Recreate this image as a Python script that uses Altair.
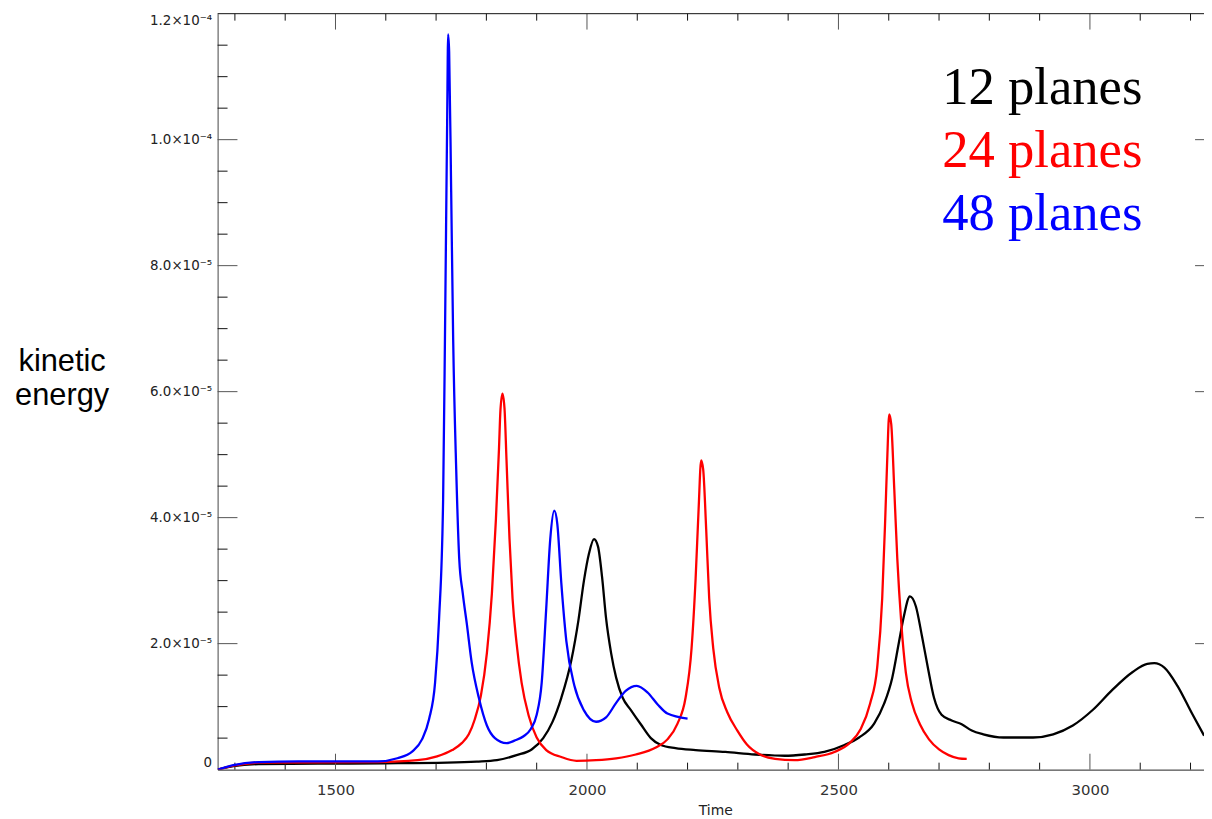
import altair as alt
import pandas as pd

# ---------------- data ----------------
# 12 planes (black)
t_12 = [1266, 1297, 1347, 1465, 1597, 1722, 1781, 1821, 1860, 1890, 1913, 1931, 1949, 1969,
        1983, 1994, 2004, 2014, 2022, 2030, 2038, 2048, 2058, 2071, 2087, 2107, 2127, 2147,
        2176, 2216, 2275, 2334, 2393, 2433, 2472, 2512, 2541, 2571, 2591, 2607, 2620, 2630,
        2642, 2654, 2666, 2678, 2690, 2705, 2725, 2745, 2765, 2788, 2828, 2887, 2927, 2966,
        3006, 3045, 3085, 3114, 3128, 3148, 3174, 3203, 3227]
ke_12 = [0.0, 0.055, 0.087, 0.095, 0.10, 0.11, 0.126, 0.15, 0.23, 0.32, 0.50, 0.75, 1.14, 1.74,
         2.37, 3.00, 3.43, 3.66, 3.54, 3.06, 2.40, 1.85, 1.46, 1.14, 0.95, 0.72, 0.50, 0.39,
         0.34, 0.31, 0.28, 0.24, 0.22, 0.24, 0.28, 0.39, 0.51, 0.73, 1.05, 1.46, 2.01, 2.43,
         2.75, 2.59, 2.12, 1.61, 1.14, 0.87, 0.78, 0.72, 0.62, 0.56, 0.51, 0.51, 0.56, 0.70,
         0.95, 1.27, 1.55, 1.68, 1.69, 1.62, 1.33, 0.89, 0.54]

# 24 planes (red)
t_24 = [1266, 1297, 1347, 1584, 1663, 1702, 1732, 1751, 1765, 1777, 1789, 1801, 1811, 1819,
        1825, 1828, 1832, 1836, 1840, 1846, 1852, 1860, 1870, 1884, 1900, 1919, 1949, 1979,
        2018, 2058, 2097, 2137, 2160, 2180, 2196, 2208, 2216, 2222, 2227, 2231, 2237, 2243,
        2251, 2263, 2279, 2299, 2318, 2344, 2374, 2413, 2453, 2492, 2522, 2544, 2563, 2577,
        2587, 2593, 2597, 2601, 2605, 2611, 2617, 2625, 2634, 2646, 2662, 2680, 2700, 2719,
        2739, 2755]
ke_24 = [0.0, 0.063, 0.11, 0.12, 0.15, 0.21, 0.31, 0.42, 0.56, 0.80, 1.17, 1.85, 2.80, 3.98,
         5.08, 5.71, 5.97, 5.74, 4.92, 3.66, 2.72, 2.01, 1.38, 0.86, 0.51, 0.31, 0.20, 0.14,
         0.15, 0.18, 0.24, 0.35, 0.48, 0.73, 1.14, 1.93, 3.03, 4.14, 4.91, 4.77, 3.82, 2.72,
         1.93, 1.30, 0.91, 0.62, 0.40, 0.24, 0.17, 0.15, 0.20, 0.28, 0.42, 0.64, 1.05, 1.62,
         2.72, 3.98, 4.93, 5.64, 5.48, 4.45, 3.35, 2.32, 1.54, 1.06, 0.72, 0.48, 0.32, 0.23,
         0.18, 0.17]

# 48 planes (blue)
t_48 = [1266, 1297, 1347, 1426, 1584, 1623, 1653, 1672, 1686, 1698, 1706, 1714, 1718, 1722,
        1724, 1726, 1730, 1734, 1740, 1746, 1753, 1761, 1771, 1785, 1801, 1817, 1840, 1856,
        1874, 1888, 1900, 1910, 1919, 1927, 1935, 1941, 1949, 1959, 1975, 1994, 2018, 2038,
        2058, 2077, 2099, 2121, 2141, 2160, 2200]
ke_48 = [0.0, 0.07, 0.12, 0.13, 0.13, 0.18, 0.29, 0.48, 0.80, 1.38, 2.40, 4.29, 7.13, 10.28,
         11.67, 11.39, 9.18, 6.82, 4.77, 3.35, 2.80, 2.32, 1.69, 1.14, 0.70, 0.50, 0.42, 0.46,
         0.53, 0.64, 0.87, 1.38, 2.56, 3.66, 4.11, 3.90, 2.96, 2.04, 1.33, 0.94, 0.76, 0.83,
         1.06, 1.25, 1.33, 1.22, 1.03, 0.89, 0.81]

series_labels = ["12 planes", "24 planes", "48 planes"]
series_colors = ["#000000", "#ff0000", "#0000ff"]

x_domain = [1265.6, 3226.8]
y_domain = [0, 1.2e-4]

x_major = [1500, 2000, 2500, 3000]
x_minor = [1300, 1400, 1600, 1700, 1800, 1900, 2100, 2200, 2300, 2400, 2600, 2700, 2800,
           2900, 3100, 3200]
y_labels = [0, 2e-5, 4e-5, 6e-5, 8e-5, 1e-4, 1.2e-4]
y_major = [2e-5, 4e-5, 6e-5, 8e-5, 1e-4]
y_minor = [5e-6, 1e-5, 1.5e-5, 2.5e-5, 3e-5, 3.5e-5, 4.5e-5, 5e-5, 5.5e-5, 6.5e-5, 7e-5,
           7.5e-5, 8.5e-5, 9e-5, 9.5e-5, 1.05e-4, 1.1e-4, 1.15e-4]

# ---------------- chart ----------------
W, H = 993, 761
xs = alt.Scale(domain=x_domain, nice=False, zero=False)
ys = alt.Scale(domain=y_domain, nice=False)

label_expr = ("datum.value == 0 ? '0' : (datum.value > 9e-5 ? "
              "format(datum.value * 1e4, '.1f') + '×10⁻⁴' : "
              "format(datum.value * 1e5, '.1f') + '×10⁻⁵')")

x_axis = alt.Axis(values=x_major, format="d", title="Time", grid=False, ticks=False,
                  tickSize=0, domain=True, domainColor="#222", domainWidth=1,
                  labelFont="DejaVu Sans", labelFontSize=15, labelColor="#333",
                  labelPadding=13, titleFont="DejaVu Sans", titleFontSize=14,
                  titleFontWeight="normal", titleColor="#222", titleX=501, titleY=45,
                  titleBaseline="alphabetic", titleAlign="center")
y_axis = alt.Axis(values=y_labels, labelExpr=label_expr, grid=False, ticks=False,
                  tickSize=0, domain=True, domainColor="#444", domainWidth=1,
                  labelFont="DejaVu Sans", labelFontSize=13.5, labelColor="#222",
                  labelPadding=6, labelFlush=True,
                  title=["kinetic", "energy"], titleAngle=0, titleAlign="center",
                  titleBaseline="alphabetic", titleX=-157, titleY=359,
                  titleFont="Liberation Sans", titleFontSize=31, titleFontWeight="normal",
                  titleColor="#000", titleLineHeight=34)


def line_layer(t, ke, color, axes=False):
    df = pd.DataFrame({"t": t, "ke": [v * 1e-5 for v in ke]})
    if axes:
        enc_x = alt.X("t:Q", scale=xs, axis=x_axis)
        enc_y = alt.Y("ke:Q", scale=ys, axis=y_axis)
    else:
        enc_x = alt.X("t:Q", scale=xs)
        enc_y = alt.Y("ke:Q", scale=ys)
    return alt.Chart(df).mark_line(color=color, strokeWidth=2.3, clip=True,
                                   interpolate="monotone").encode(x=enc_x, y=enc_y)


def xtick_layer(vals, y0, y1, color):
    df = pd.DataFrame({"t": vals})
    return alt.Chart(df).mark_rule(color=color, strokeWidth=1).encode(
        x=alt.X("t:Q", scale=xs), y=alt.value(y0), y2=alt.value(y1))


def ytick_layer(vals, x0, x1, color):
    df = pd.DataFrame({"ke": vals})
    return alt.Chart(df).mark_rule(color=color, strokeWidth=1).encode(
        y=alt.Y("ke:Q", scale=ys), x=alt.value(x0), x2=alt.value(x1))


layers = [
    line_layer(t_12, ke_12, series_colors[0], axes=True),
    xtick_layer(x_minor, H - 7, H, "#111"),
    xtick_layer(x_major, H - 16, H, "#555"),
    xtick_layer(x_minor, 0, 7, "#111"),
    xtick_layer(x_major, 0, 16, "#555"),
    ytick_layer(y_minor, 0, 10, "#111"),
    ytick_layer(y_major, 0, 20, "#555"),
    ytick_layer(y_major, W - 9, W, "#555"),
    alt.Chart(pd.DataFrame({"a": [0]})).mark_rule(color="#111", strokeWidth=1).encode(
        y=alt.value(0), x=alt.value(0), x2=alt.value(W)),
    line_layer(t_24, ke_24, series_colors[1]),
    line_layer(t_48, ke_48, series_colors[2]),
]

for i, (lab, col) in enumerate(zip(series_labels, series_colors)):
    layers.append(
        alt.Chart(pd.DataFrame({"label": [lab]})).mark_text(
            align="right", baseline="alphabetic", font="Liberation Serif", fontSize=53,
            color=col).encode(text="label:N", x=alt.value(931), y=alt.value(91 + i * 63.3))
    )

chart = alt.layer(*layers).properties(
    width=W, height=H,
    padding={"left": 211, "top": 3, "right": 0, "bottom": 47},
    autosize=alt.AutoSizeParams(type="none"),
).configure_view(strokeWidth=0)

chart.save("out.html", embed_options={"renderer": "svg", "actions": False})
